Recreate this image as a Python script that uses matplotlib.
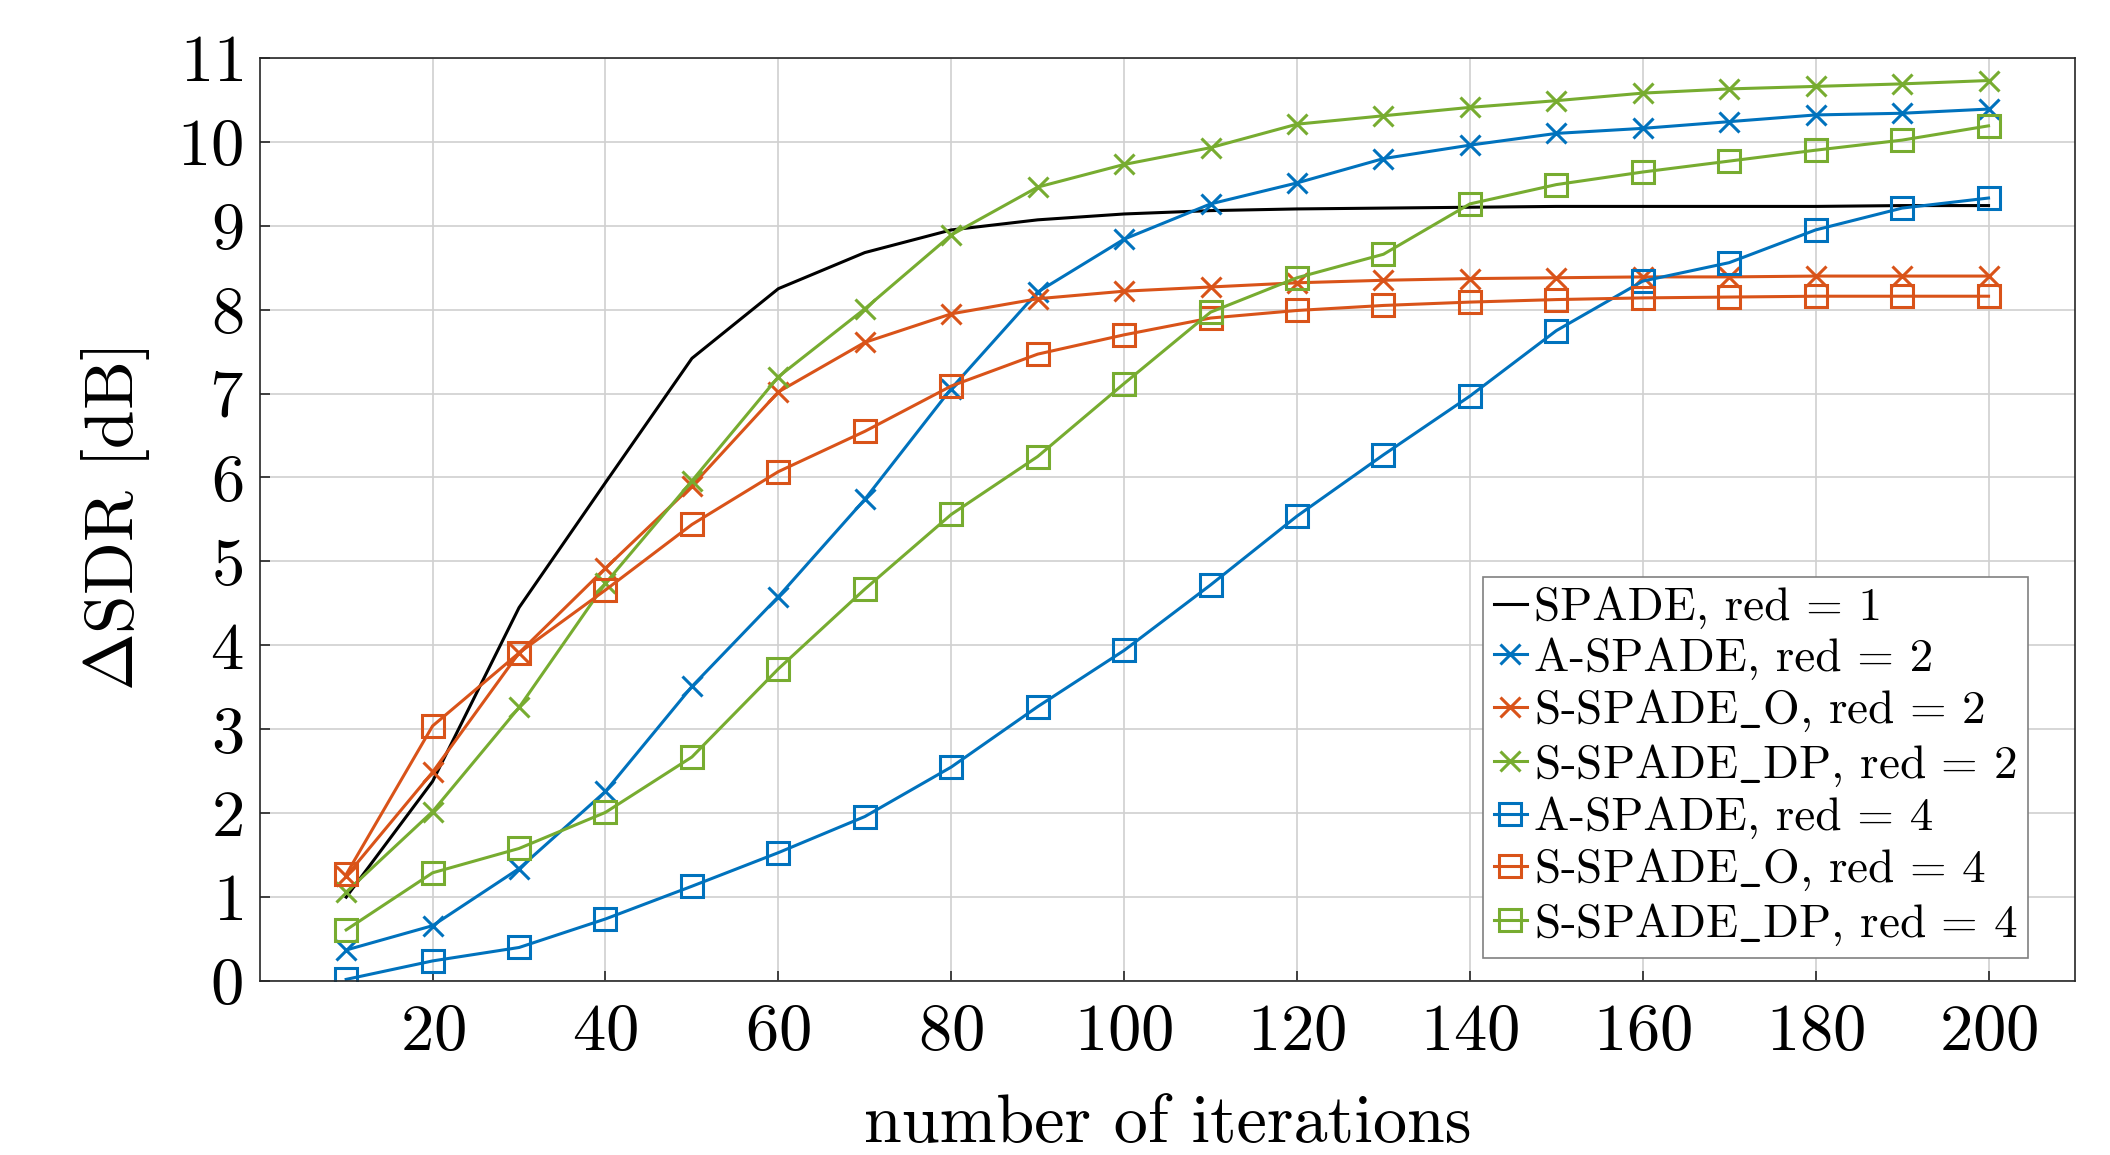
# -*- coding: utf-8 -*-
import numpy as np
import matplotlib
matplotlib.use('Agg')
import matplotlib.pyplot as plt

plt.rcParams['font.family'] = 'serif'
plt.rcParams['font.serif'] = ['cmr10']
plt.rcParams['mathtext.fontset'] = 'cm'
plt.rcParams['axes.formatter.use_mathtext'] = True
plt.rcParams['axes.unicode_minus'] = False

iters = [10, 20, 30, 40, 50, 60, 70, 80, 90, 100, 110, 120, 130, 140, 150, 160, 170, 180, 190, 200]

spade_1 = [1.00, 2.38, 4.45, 5.94, 7.42, 8.25, 8.68, 8.95, 9.07, 9.14, 9.18, 9.20, 9.21, 9.22, 9.23, 9.23, 9.23, 9.23, 9.24, 9.24]
aspade_2 = [0.37, 0.66, 1.34, 2.26, 3.51, 4.58, 5.74, 7.06, 8.21, 8.84, 9.26, 9.51, 9.80, 9.96, 10.10, 10.16, 10.24, 10.32, 10.34, 10.39]
sspade_o_2 = [1.25, 2.49, 3.91, 4.92, 5.90, 7.02, 7.61, 7.95, 8.13, 8.22, 8.27, 8.32, 8.35, 8.37, 8.38, 8.39, 8.39, 8.40, 8.40, 8.40]
sspade_dp_2 = [1.06, 2.02, 3.26, 4.74, 5.96, 7.20, 8.01, 8.89, 9.46, 9.73, 9.93, 10.21, 10.31, 10.41, 10.49, 10.58, 10.63, 10.66, 10.69, 10.73]
aspade_4 = [0.02, 0.24, 0.40, 0.74, 1.13, 1.53, 1.96, 2.55, 3.27, 3.94, 4.72, 5.54, 6.27, 6.97, 7.75, 8.34, 8.56, 8.95, 9.21, 9.33]
sspade_o_4 = [1.27, 3.04, 3.91, 4.66, 5.44, 6.07, 6.55, 7.09, 7.47, 7.70, 7.90, 7.99, 8.05, 8.09, 8.12, 8.14, 8.15, 8.16, 8.16, 8.16]
sspade_dp_4 = [0.61, 1.29, 1.58, 2.01, 2.67, 3.72, 4.67, 5.56, 6.25, 7.12, 7.97, 8.38, 8.66, 9.26, 9.49, 9.64, 9.77, 9.90, 10.02, 10.19]

blue = '#0072BD'
orange = '#D95319'
green = '#77AC30'

fig = plt.figure(figsize=(21.1, 11.55), dpi=100)
ax = fig.add_axes([0.1231, 0.1506, 0.8603, 0.7993])

lw = 2.2
ms_x = 14
ms_s = 16
ax.plot(iters, spade_1, color='k', linestyle='-', linewidth=lw, label='SPADE, red = 1')
ax.plot(iters, aspade_2, color=blue, marker='x', ms=ms_x, mew=lw, linewidth=lw, label='A-SPADE, red = 2')
ax.plot(iters, sspade_o_2, color=orange, marker='x', ms=ms_x, mew=lw, linewidth=lw, label=r'S-SPADE$\_$O, red = 2')
ax.plot(iters, sspade_dp_2, color=green, marker='x', ms=ms_x, mew=lw, linewidth=lw, label=r'S-SPADE$\_$DP, red = 2')
ax.plot(iters, aspade_4, color=blue, marker='s', ms=ms_s, mew=lw, mfc='none', linewidth=lw, label='A-SPADE, red = 4')
ax.plot(iters, sspade_o_4, color=orange, marker='s', ms=ms_s, mew=lw, mfc='none', linewidth=lw, label=r'S-SPADE$\_$O, red = 4')
ax.plot(iters, sspade_dp_4, color=green, marker='s', ms=ms_s, mew=lw, mfc='none', linewidth=lw, label=r'S-SPADE$\_$DP, red = 4')

ax.set_xlim(0, 210)
ax.set_ylim(0, 11)
ax.set_xticks(range(20, 201, 20))
ax.set_yticks(range(0, 12))
ax.grid(True, color='#d0d0d0', linewidth=1.2)
ax.set_axisbelow(True)
for s in ax.spines.values():
    s.set_color('#262626')
    s.set_linewidth(1.2)
ax.tick_params(direction='in', length=7, width=1.2, color='#262626', labelsize=48)
ax.tick_params(axis='x', pad=16)
ax.tick_params(axis='y', pad=12)

ax.set_xlabel('number of iterations', fontsize=49, labelpad=22)
ax.set_ylabel(r'$\Delta$SDR [dB]', fontsize=50, labelpad=18)

leg = ax.legend(loc='lower right', bbox_to_anchor=(0.974, 0.025), borderaxespad=0,
                fontsize=34, handlelength=0.7, handletextpad=0.15, labelspacing=0.17,
                borderpad=0.22, fancybox=False, framealpha=1, edgecolor='#808080')
leg.get_frame().set_linewidth(1.2)

fig.savefig('out.png', dpi=100)
